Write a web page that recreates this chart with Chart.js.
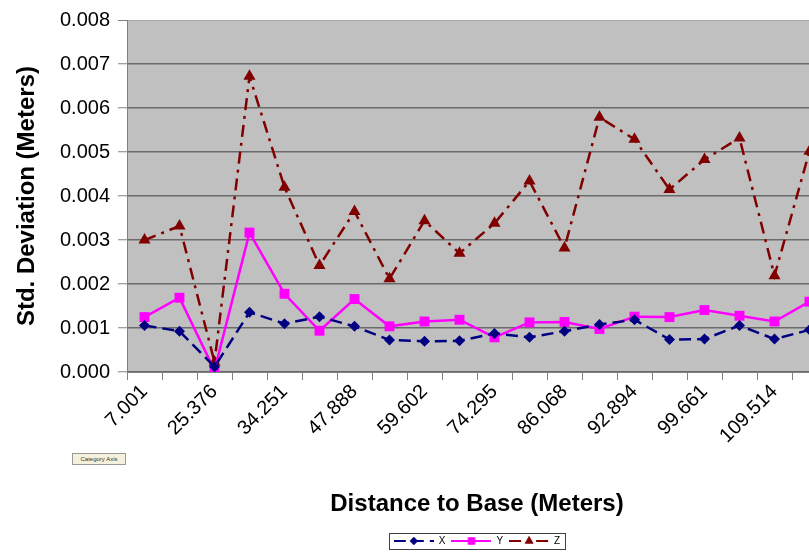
<!DOCTYPE html>
<html>
<head>
<meta charset="utf-8">
<title>Std. Deviation vs Distance to Base</title>
<script src="https://cdn.jsdelivr.net/npm/chart.js@4.4.1/dist/chart.umd.min.js"></script>
<style>
  html, body { margin: 0; padding: 0; background: #fff; overflow: hidden; }
  #wrap { position: relative; width: 850px; height: 556px; }
  #catTip {
    position: absolute; left: 72px; top: 453px; width: 52px; height: 10px;
    font: 6px "Liberation Sans", Arial, sans-serif; line-height: 10px;
    text-align: center; color: #333; background: #f4f2dc; border: 1px solid #999;
  }
</style>
</head>
<body>
<div id="wrap"><canvas id="chart"></canvas></div>
<div id="catTip">Category Axis</div>
<script>
// 距離ラベル（1つおきにしか表示されていない）
const categories = ["7.001", "", "25.376", "", "34.251", "", "47.888", "", "59.602", "",
                    "74.295", "", "86.068", "", "92.894", "", "99.661", "", "109.514", ""];

// 標準偏差 (m)
const xValues = [0.00106, 0.00093, 0.00012, 0.00136, 0.00110, 0.00126, 0.00104, 0.00073, 0.00070, 0.00071,
                 0.00088, 0.00079, 0.00093, 0.00108, 0.00119, 0.00074, 0.00075, 0.00106, 0.00075, 0.00096];
const yValues = [0.00125, 0.00169, 0.00004, 0.00317, 0.00178, 0.00094, 0.00166, 0.00104, 0.00115, 0.00119,
                 0.00079, 0.00113, 0.00114, 0.00098, 0.00126, 0.00125, 0.00141, 0.00128, 0.00115, 0.00160];
const zValues = [0.00300, 0.00332, 0.00023, 0.00672, 0.00420, 0.00242, 0.00365, 0.00212, 0.00344, 0.00270,
                 0.00338, 0.00434, 0.00282, 0.00579, 0.00529, 0.00415, 0.00483, 0.00532, 0.00219, 0.00502];

const Y_MIN = 0, Y_MAX = 0.008, Y_STEP = 0.001;

const FONT = "'Liberation Sans', Arial, sans-serif";

// 凡例用の小さな線＋マーカー画像
function legendImage(color, dash, style, radius) {
  const c = document.createElement("canvas");
  c.width = 40; c.height = 14;
  const g = c.getContext("2d");
  g.strokeStyle = color;
  g.lineWidth = 2;
  g.setLineDash(dash);
  g.beginPath();
  g.moveTo(0, 7);
  g.lineTo(40, 7);
  g.stroke();
  g.setLineDash([]);
  g.fillStyle = color;
  Chart.helpers.drawPoint(g, { pointStyle: style, radius: radius, borderWidth: 0, rotation: 0 }, 20, 7);
  g.fill();
  return c;
}

const X_COLOR = "#000080", Y_COLOR = "#ff00ff", Z_COLOR = "#800000";
const X_DASH = [12, 6], Z_DASH = [12, 6, 3, 6];

// プロット領域の背景
const plotBg = {
  id: "plotBg",
  beforeDraw(chart) {
    const a = chart.chartArea, ctx = chart.ctx;
    ctx.save();
    ctx.fillStyle = "#c0c0c0";
    ctx.fillRect(a.left, a.top, a.right - a.left, a.bottom - a.top);
    ctx.restore();
  }
};

// 凡例の枠
const legendFrame = {
  id: "legendFrame",
  afterDraw(chart) {
    const hb = chart.legend && chart.legend.legendHitBoxes;
    if (!hb || !hb.length) return;
    const first = hb[0], last = hb[hb.length - 1];
    const ctx = chart.ctx;
    ctx.save();
    ctx.strokeStyle = "#404040";
    ctx.lineWidth = 1;
    ctx.strokeRect(Math.round(first.left - 5) + 0.5, Math.round(first.top - 3) + 0.5,
                   Math.round(last.left + last.width - first.left + 10), Math.round(first.height + 6));
    ctx.restore();
  }
};

new Chart(document.getElementById("chart"), {
  type: "line",
  data: {
    labels: categories,
    datasets: [{
      label: "X",
      data: xValues,
      borderColor: X_COLOR,
      backgroundColor: X_COLOR,
      borderWidth: 2.5,
      borderDash: X_DASH,
      pointStyle: "rectRot",
      pointRadius: 5.5,
      pointBorderWidth: 0,
      tension: 0
    }, {
      label: "Y",
      data: yValues,
      borderColor: Y_COLOR,
      backgroundColor: Y_COLOR,
      borderWidth: 2.5,
      pointStyle: "rect",
      pointRadius: 7,
      pointBorderWidth: 0,
      tension: 0
    }, {
      label: "Z",
      data: zValues,
      borderColor: Z_COLOR,
      backgroundColor: Z_COLOR,
      borderWidth: 2.5,
      borderDash: Z_DASH,
      pointStyle: "triangle",
      pointRadius: 7,
      pointBorderWidth: 0,
      tension: 0
    }]
  },
  options: {
    responsive: true,
    maintainAspectRatio: false,
    animation: false,
    layout: { padding: { top: 19, left: 0, right: 23, bottom: 0 } },
    plugins: {
      tooltip: { enabled: false },
      legend: {
        position: "bottom",
        fullSize: false,
        labels: {
          usePointStyle: true,
          pointStyleWidth: 40,
          padding: 6,
          color: "#000",
          font: { family: FONT, size: 10 },
          generateLabels(chart) {
            const imgs = [
              legendImage(X_COLOR, X_DASH, "rectRot", 4),
              legendImage(Y_COLOR, [], "rect", 5),
              legendImage(Z_COLOR, Z_DASH, "triangle", 5)
            ];
            return chart.data.datasets.map((ds, i) => ({
              text: ds.label,
              pointStyle: imgs[i],
              fillStyle: ds.borderColor,
              strokeStyle: ds.borderColor,
              lineWidth: 0,
              fontColor: "#000",
              hidden: false,
              datasetIndex: i
            }));
          }
        }
      }
    },
    scales: {
      x: {
        offset: true,
        grid: {
          offset: true,
          drawOnChartArea: false,
          drawTicks: true,
          tickLength: 8,
          color: "#808080"
        },
        border: { color: "#808080", width: 1 },
        ticks: {
          autoSkip: false,
          minRotation: 45,
          maxRotation: 45,
          padding: 0,
          color: "#000",
          font: { family: FONT, size: 20 }
        },
        title: {
          display: true,
          text: "Distance to Base (Meters)",
          color: "#000",
          font: { family: FONT, size: 24, weight: "bold" },
          padding: { top: 42, bottom: 11 }
        }
      },
      y: {
        min: Y_MIN,
        max: Y_MAX,
        afterFit(scale) { scale.width = 127; },
        grid: {
          color: (c) => (c.tick && c.tick.value >= Y_MAX - 1e-9) ? "#a8a8a8" : "#6a6a6a",
          lineWidth: (c) => (c.tick && c.tick.value >= Y_MAX - 1e-9) ? 1 : 1.5,
          tickColor: "#808080",
          tickWidth: 1,
          tickLength: 9
        },
        border: { color: "#808080", width: 1 },
        ticks: {
          stepSize: Y_STEP,
          padding: 8,
          color: "#000",
          font: { family: FONT, size: 20 },
          callback: (v) => Number(v).toFixed(3)
        },
        title: {
          display: true,
          text: "Std. Deviation (Meters)",
          color: "#000",
          font: { family: FONT, size: 24, weight: "bold" },
          padding: { top: 13, bottom: 0 }
        }
      }
    }
  },
  plugins: [plotBg, legendFrame]
});
</script>
</body>
</html>
